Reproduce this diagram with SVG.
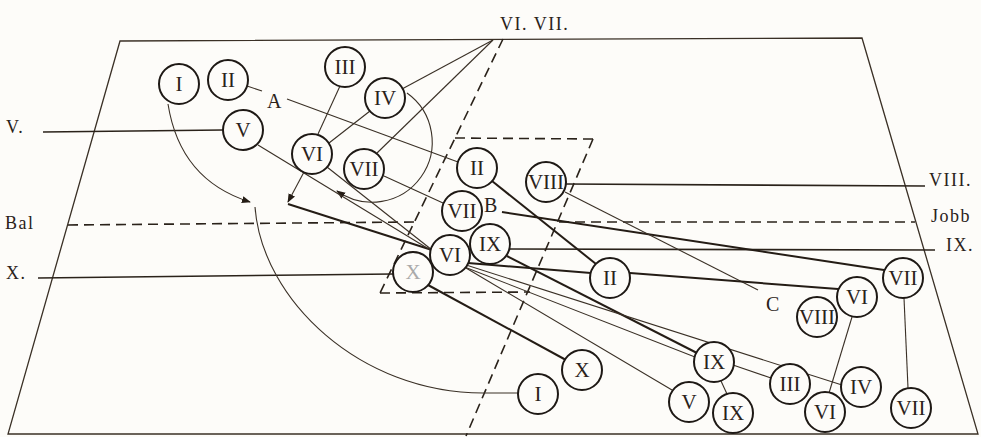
<svg xmlns="http://www.w3.org/2000/svg" width="981" height="437" viewBox="0 0 981 437">
<style>
.bg{fill:#fdfcf9}
.ln{fill:none;stroke:#3a3026;stroke-width:1.1}
.tk{fill:none;stroke:#241c15;stroke-width:2}
.hz{fill:none;stroke:#2a221a;stroke-width:1.6}
.ds{fill:none;stroke:#2a221a;stroke-width:1.6;stroke-dasharray:10 6}
.fr{fill:none;stroke:#3a3026;stroke-width:1.3}
.nd circle{fill:#fdfcf9;stroke:#1e1915;stroke-width:2}
text{font-family:"Liberation Serif","DejaVu Serif",serif;fill:#2a221a}
.nl{font-size:21px;text-anchor:middle}
.lb{font-size:18px;letter-spacing:1.5px}
.sm{font-size:20px}
</style>
<defs>
<marker id="ah" viewBox="0 0 10 10" refX="9" refY="5" markerWidth="9" markerHeight="9" markerUnits="userSpaceOnUse" orient="auto">
<path d="M0,1 L10,5 L0,9 Z" fill="#241c15"/>
</marker>
</defs>
<rect class="bg" x="0" y="0" width="981" height="437"/>
<g id="frame">
<path class="fr" d="M120,41 L862,38 L978,434 L8,434 Z"/>
<path class="ds" d="M503,39 L380,293"/>
<path class="ds" d="M455,138 L593,139"/>
<path class="ds" d="M593,139 L466,436"/>
<path class="ds" d="M380,293 L530,292"/>
<path class="ds" d="M68,225 L414,222"/>
<path class="ds" d="M559,222 L915,222"/>
</g>
<g id="connectors">
<path class="hz" d="M43,132 L223,130"/>
<path class="hz" d="M566,184 L925,186"/>
<path class="hz" d="M509,249 L935,250"/>
<path class="hz" d="M38,278 L393,274"/>
<path class="ln" d="M247,86 L262,91"/>
<path class="ln" d="M287,99 L458,162"/>
<path class="ln" d="M168,104 Q180,180 250,202" marker-end="url(#ah)"/>
<path class="ln" d="M255,207 C262,300 360,393 483,393 L518,393"/>
<path class="ln" d="M407,93 A60,60 0 0 1 337,191" marker-end="url(#ah)"/>
<path class="ln" d="M493,40 L402,89"/>
<path class="ln" d="M493,40 L377,153"/>
<path class="ln" d="M340,86 L318,134"/>
<path class="ln" d="M370,111 L329,143"/>
<path class="ln" d="M304,172 L288,202" marker-end="url(#ah)"/>
<path class="tk" d="M288,204 L432,250"/>
<path class="ln" d="M258,145 L432,251"/>
<path class="ln" d="M327,167 L432,250"/>
<path class="ln" d="M384,176 L443,203"/>
<path class="tk" d="M492,181 L596,264"/>
<path class="tk" d="M502,212 L884,270"/>
<path class="ln" d="M565,192 L758,290"/>
<path class="tk" d="M468,263 L591,273"/>
<path class="tk" d="M630,273 L838,289"/>
<path class="tk" d="M507,256 L697,353"/>
<path class="ln" d="M462,266 L695,357"/>
<path class="ln" d="M463,264 L842,385"/>
<path class="ln" d="M466,268 L672,390"/>
<path class="tk" d="M428,285 L566,360"/>
<path class="ln" d="M733,365 L771,378"/>
<path class="ln" d="M721,381 L727,394"/>
<path class="ln" d="M852,317 L829,393"/>
<path class="ln" d="M904,298 L908,388"/>
</g>
<g id="labels">
<text class="lb" x="500" y="30">VI. VII.</text>
<text class="lb" x="6" y="133">V.</text>
<text class="lb" x="5" y="229">Bal</text>
<text class="lb" x="6" y="279">X.</text>
<text class="lb" x="929" y="186">VIII.</text>
<text class="lb" x="931" y="222">Jobb</text>
<text class="lb" x="946" y="251">IX.</text>
<text class="sm" x="267" y="108">A</text>
<text class="sm" x="484" y="212">B</text>
<text class="sm" x="766" y="311">C</text>
</g>
<g id="n-I-top" class="nd"><circle cx="179" cy="84" r="20"/><text class="nl" x="179" y="91">I</text></g>
<g id="n-II-top" class="nd"><circle cx="228" cy="80" r="20"/><text class="nl" x="228" y="87">II</text></g>
<g id="n-III-top" class="nd"><circle cx="345" cy="67" r="20"/><text class="nl" x="345" y="74">III</text></g>
<g id="n-IV-top" class="nd"><circle cx="385" cy="98" r="20"/><text class="nl" x="385" y="105">IV</text></g>
<g id="n-V-top" class="nd"><circle cx="243" cy="130" r="20"/><text class="nl" x="243" y="137">V</text></g>
<g id="n-VI-left" class="nd"><circle cx="312" cy="154" r="20"/><text class="nl" x="312" y="161">VI</text></g>
<g id="n-VII-left" class="nd"><circle cx="364" cy="169" r="20"/><text class="nl" x="364" y="176">VII</text></g>
<g id="n-II-mid" class="nd"><circle cx="477" cy="168" r="20"/><text class="nl" x="477" y="175">II</text></g>
<g id="n-VIII-top" class="nd"><circle cx="546" cy="182" r="20"/><text class="nl" x="546" y="189">VIII</text></g>
<g id="n-VII-mid" class="nd"><circle cx="462" cy="211" r="20"/><text class="nl" x="462" y="218">VII</text></g>
<g id="n-IX-mid" class="nd"><circle cx="490" cy="244" r="20"/><text class="nl" x="490" y="251">IX</text></g>
<g id="n-VI-mid" class="nd"><circle cx="450" cy="255" r="20"/><text class="nl" x="450" y="262">VI</text></g>
<g id="n-X-left" class="nd"><circle cx="413" cy="272" r="20"/><text class="nl" x="413" y="279" style="fill:#aaa">X</text></g>
<g id="n-II-right" class="nd"><circle cx="610" cy="278" r="20"/><text class="nl" x="610" y="285">II</text></g>
<g id="n-X-low" class="nd"><circle cx="582" cy="370" r="20"/><text class="nl" x="582" y="377">X</text></g>
<g id="n-I-low" class="nd"><circle cx="538" cy="394" r="20"/><text class="nl" x="538" y="401">I</text></g>
<g id="n-VII-right" class="nd"><circle cx="903" cy="278" r="20"/><text class="nl" x="903" y="285">VII</text></g>
<g id="n-VI-right" class="nd"><circle cx="857" cy="297" r="20"/><text class="nl" x="857" y="304">VI</text></g>
<g id="n-VIII-right" class="nd"><circle cx="817" cy="317" r="20"/><text class="nl" x="817" y="324">VIII</text></g>
<g id="n-IX-low" class="nd"><circle cx="714" cy="362" r="20"/><text class="nl" x="714" y="369">IX</text></g>
<g id="n-V-low" class="nd"><circle cx="689" cy="402" r="20"/><text class="nl" x="689" y="409">V</text></g>
<g id="n-IX-low2" class="nd"><circle cx="733" cy="413" r="20"/><text class="nl" x="733" y="420">IX</text></g>
<g id="n-III-low" class="nd"><circle cx="790" cy="384" r="20"/><text class="nl" x="790" y="391">III</text></g>
<g id="n-VI-low" class="nd"><circle cx="825" cy="412" r="20"/><text class="nl" x="825" y="419">VI</text></g>
<g id="n-IV-low" class="nd"><circle cx="861" cy="387" r="20"/><text class="nl" x="861" y="394">IV</text></g>
<g id="n-VII-low" class="nd"><circle cx="911" cy="408" r="20"/><text class="nl" x="911" y="415">VII</text></g>
</svg>
